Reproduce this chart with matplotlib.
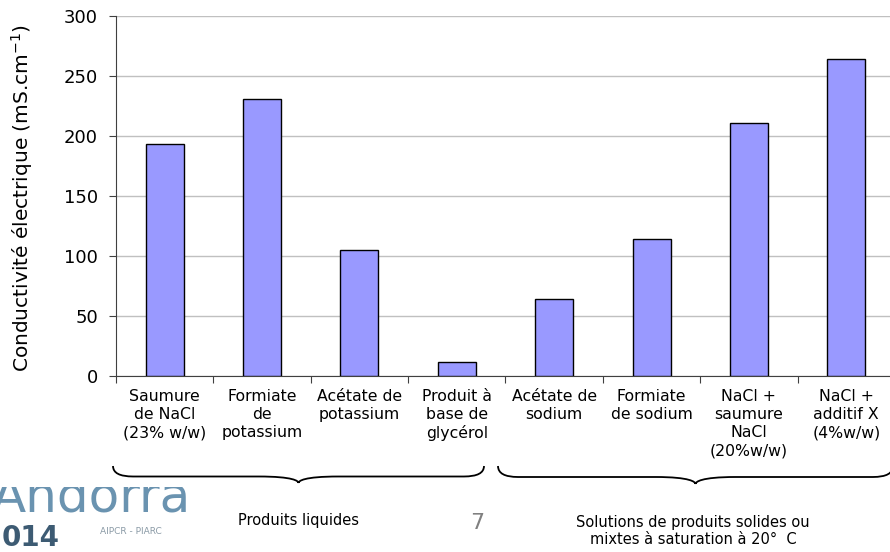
import matplotlib
matplotlib.use('Agg')
import matplotlib.pyplot as plt
from matplotlib.path import Path
from matplotlib.patches import PathPatch
import numpy as np

plt.rcParams['font.family'] = ['DejaVu Sans']

# conductivité électrique des produits (mS/cm)
categories = ['Saumure\nde NaCl\n(23% w/w)', 'Formiate\nde\npotassium', 'Acétate de\npotassium',
              'Produit à\nbase de\nglycérol', 'Acétate de\nsodium', 'Formiate\nde sodium',
              'NaCl +\nsaumure\nNaCl\n(20%w/w)', 'NaCl +\nadditif X\n(4%w/w)']
conductivite = [193, 231, 105, 11.5, 64, 114, 211, 264]
groupes = ['Produits liquides', 'Solutions de produits solides ou\nmixtes à saturation à 20°  C']

W, H = 890, 552
fig = plt.figure(figsize=(W / 100, H / 100), dpi=100)

def px(x0, y0, x1, y1):
    return [x0 / W, 1 - y1 / H, (x1 - x0) / W, (y1 - y0) / H]

ax = fig.add_axes(px(116, 16, 895, 376))
x = np.arange(len(categories))
ax.bar(x, conductivite, width=0.39, color='#9999ff', edgecolor='black', linewidth=1, zorder=3)
ax.set_xlim(-0.5, len(categories) - 0.5)
ax.set_ylim(0, 300)
ax.set_yticks(np.arange(0, 301, 50))
ax.yaxis.grid(True, color='#c0c0c0', linewidth=1)
ax.set_axisbelow(True)
for s in ['top', 'right']:
    ax.spines[s].set_visible(False)
ax.spines['left'].set_color('#404040')
ax.spines['bottom'].set_color('#404040')
ax.tick_params(axis='y', labelsize=13, length=5, color='#404040', pad=8)

# graduations entre les catégories, étiquettes au centre
ax.set_xticks(np.arange(len(categories) + 1) - 0.5)
ax.set_xticklabels([])
ax.tick_params(axis='x', length=5, color='#404040')
for i, lab in enumerate(categories):
    ax.text(i, -10.5, lab, ha='center', va='top', fontsize=11.3, linespacing=1.27)

fig.text(22 / W, 1 - 198 / H, 'Conductivité électrique (mS.cm$^{\\mathregular{-1}}$)',
         rotation=90, ha='center', va='center', fontsize=14.5)

# accolades sous les groupes
def accolade(x0, x1, ytop, ybot):
    xm = (x0 + x1) / 2
    ymid = (ytop + ybot) / 2 + 2
    verts = [(x0, ytop), (x0, ymid), (x0 + 20, ymid), (xm - 40, ymid),
             (xm - 5, ymid), (xm, ybot - 2), (xm, ybot),
             (xm, ybot - 2), (xm + 5, ymid), (xm + 40, ymid),
             (x1 - 20, ymid), (x1, ymid), (x1, ytop)]
    codes = [Path.MOVETO, Path.CURVE3, Path.CURVE3, Path.LINETO,
             Path.CURVE4, Path.CURVE4, Path.CURVE4,
             Path.CURVE4, Path.CURVE4, Path.CURVE4,
             Path.LINETO, Path.CURVE3, Path.CURVE3]
    pts = [(vx / W, 1 - vy / H) for vx, vy in verts]
    fig.add_artist(PathPatch(Path(pts, codes), transform=fig.transFigure,
                             fill=False, edgecolor='black', linewidth=1.3))

accolade(113, 484, 466, 483)
accolade(498, 893, 466, 484)

fig.text(298 / W, 1 - 520 / H, groupes[0], ha='center', va='center', fontsize=10.5)
fig.text(693 / W, 1 - 531 / H, groupes[1], ha='center', va='center', fontsize=10.5, linespacing=1.2)
fig.text(477 / W, 1 - 523 / H, '7', ha='center', va='center', fontsize=16, color='#808080')

# logo en bas à gauche (le haut du nom est coupé par le cadre)
lax = fig.add_axes(px(0, 487, 230, 552))
lax.set_xlim(0, 230)
lax.set_ylim(552, 487)
lax.axis('off')
lax.text(-8, 511, 'Andorra', fontsize=36, color='#6a93b0', va='baseline', ha='left',
         clip_on=True)
lax.text(2, 546, '014', fontsize=20, color='#3d5b73', fontweight='bold', va='baseline', ha='left')
lax.text(100, 531, 'AIPCR - PIARC', fontsize=6.5, color='#8a9aa6', va='center', ha='left')

fig.savefig('out.png', dpi=100)
